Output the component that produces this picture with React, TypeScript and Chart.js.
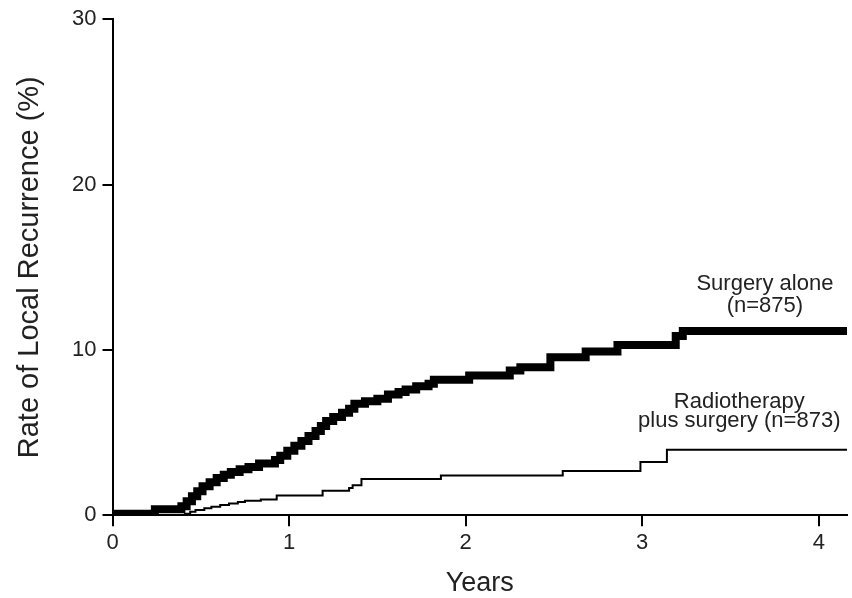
import React, { useEffect, useRef } from "react";
import { Chart, registerables } from "chart.js";

Chart.register(...registerables);

// Surgery alone (n=875): step times (years) and cumulative local recurrence (%)
const surgeryYears = [
  0, 0.24, 0.39, 0.42, 0.45, 0.48, 0.51, 0.55, 0.59, 0.63, 0.67, 0.72, 0.77, 0.83,
  0.92, 0.95, 0.99, 1.03, 1.07, 1.11, 1.15, 1.18, 1.21, 1.25, 1.3, 1.34, 1.37, 1.43,
  1.5, 1.56, 1.62, 1.66, 1.72, 1.79, 1.82, 2.02, 2.25, 2.31, 2.48, 2.68, 2.86, 3.19,
  3.23, 4.16,
];
const surgeryRates = [
  0.1, 0.36, 0.55, 0.85, 1.15, 1.45, 1.75, 2.0, 2.25, 2.45, 2.62, 2.78, 2.92, 3.13,
  3.35, 3.6, 3.9, 4.2, 4.5, 4.8, 5.1, 5.4, 5.7, 5.95, 6.2, 6.45, 6.75, 6.9,
  7.05, 7.3, 7.45, 7.6, 7.8, 7.95, 8.2, 8.45, 8.75, 8.95, 9.55, 9.9, 10.3, 10.85,
  11.15, 11.15,
];

// Radiotherapy plus surgery (n=873)
const radioYears = [
  0, 0.41, 0.44, 0.47, 0.52, 0.56, 0.61, 0.66, 0.71, 0.75, 0.84, 0.93, 1.19, 1.34,
  1.36, 1.41, 1.86, 2.55, 2.99, 3.14, 4.16,
];
const radioRates = [
  0, 0.1, 0.22, 0.32, 0.42, 0.52, 0.62, 0.72, 0.8, 0.88, 0.96, 1.2, 1.48, 1.65,
  1.82, 2.2, 2.4, 2.68, 3.22, 3.97, 3.97,
];

const xTickValues = [0, 1, 2, 3, 4];
const yTickValues = [0, 10, 20, 30];

const xTitle = "Years";
const yTitle = "Rate of Local Recurrence (%)";

// Curve labels (text, anchored in data coordinates)
const labelTexts = ["Surgery alone", "(n=875)", "Radiotherapy", "plus surgery (n=873)"];
const labelYears = [3.695, 3.695, 3.55, 3.55];
const labelRates = [13.65, 12.3, 6.47, 5.33];

const FONT = '"Liberation Sans", Arial, Helvetica, sans-serif';
const TEXT_COLOR = "#222";

const curveLabelPlugin = {
  id: "curveLabels",
  afterDatasetsDraw(chart: any) {
    const { ctx, scales } = chart;
    const xs = scales.x;
    const ys = scales.y;
    ctx.save();
    ctx.font = `22px ${FONT}`;
    ctx.fillStyle = TEXT_COLOR;
    ctx.textAlign = "center";
    ctx.textBaseline = "alphabetic";
    labelTexts.forEach((t, i) => {
      ctx.fillText(t, xs.getPixelForValue(labelYears[i]), ys.getPixelForValue(labelRates[i]));
    });
    ctx.restore();
  },
};

export default function App() {
  const canvasRef = useRef<HTMLCanvasElement | null>(null);

  useEffect(() => {
    const canvas = canvasRef.current;
    if (!canvas) return;
    const chart = new Chart(canvas, {
      type: "line",
      data: {
        datasets: [
          {
            label: "Surgery alone",
            data: surgeryYears.map((x, i) => ({ x, y: surgeryRates[i] })),
            borderColor: "#000",
            backgroundColor: "#000",
            borderWidth: 8,
            stepped: true,
            pointRadius: 0,
            borderJoinStyle: "miter",
            borderCapStyle: "butt",
            fill: false,
          },
          {
            label: "Radiotherapy plus surgery",
            data: radioYears.map((x, i) => ({ x, y: radioRates[i] })),
            borderColor: "#000",
            backgroundColor: "#000",
            borderWidth: 2,
            stepped: true,
            pointRadius: 0,
            borderJoinStyle: "miter",
            fill: false,
          },
        ],
      },
      options: {
        responsive: false,
        animation: false,
        events: [],
        layout: { padding: { left: 0, right: 5, top: 16, bottom: 0 } },
        plugins: {
          legend: { display: false },
          tooltip: { enabled: false },
          title: { display: false },
        },
        scales: {
          x: {
            type: "linear",
            min: 0,
            max: 4.16,
            afterBuildTicks: (scale: any) => {
              scale.ticks = xTickValues.map((v) => ({ value: v }));
            },
            afterFit: (scale: any) => {
              scale.height = 82.7;
            },
            ticks: {
              color: TEXT_COLOR,
              font: { family: FONT, size: 22 },
              padding: 3,
              maxRotation: 0,
              callback: (v: any) => String(v),
            },
            grid: {
              display: true,
              drawOnChartArea: false,
              drawTicks: true,
              tickLength: 11,
              color: "#000",
              lineWidth: 2,
            },
            border: { display: true, color: "#000", width: 2 },
            title: {
              display: true,
              text: xTitle,
              color: TEXT_COLOR,
              font: { family: FONT, size: 27, lineHeight: 1.1 },
              padding: { top: 0, bottom: 0 },
            },
          },
          y: {
            type: "linear",
            min: 0,
            max: 30,
            afterBuildTicks: (scale: any) => {
              scale.ticks = yTickValues.map((v) => ({ value: v }));
            },
            afterFit: (scale: any) => {
              scale.width = 112.5;
            },
            ticks: {
              color: TEXT_COLOR,
              font: { family: FONT, size: 22 },
              padding: 6,
              callback: (v: any) => String(v),
            },
            grid: {
              display: true,
              drawOnChartArea: false,
              drawTicks: true,
              tickLength: 10,
              color: "#000",
              lineWidth: 2,
            },
            border: { display: true, color: "#000", width: 2 },
            title: {
              display: true,
              text: yTitle,
              color: TEXT_COLOR,
              font: { family: FONT, size: 29 },
              padding: { top: 13, bottom: 0 },
            },
          },
        },
      },
      plugins: [curveLabelPlugin],
    } as any);
    return () => chart.destroy();
  }, []);

  return (
    <div style={{ position: "fixed", left: 0, top: 0, width: 852, height: 598, background: "#fff" }}>
      <canvas ref={canvasRef} width={852} height={598} style={{ display: "block", width: 852, height: 598 }} />
    </div>
  );
}
